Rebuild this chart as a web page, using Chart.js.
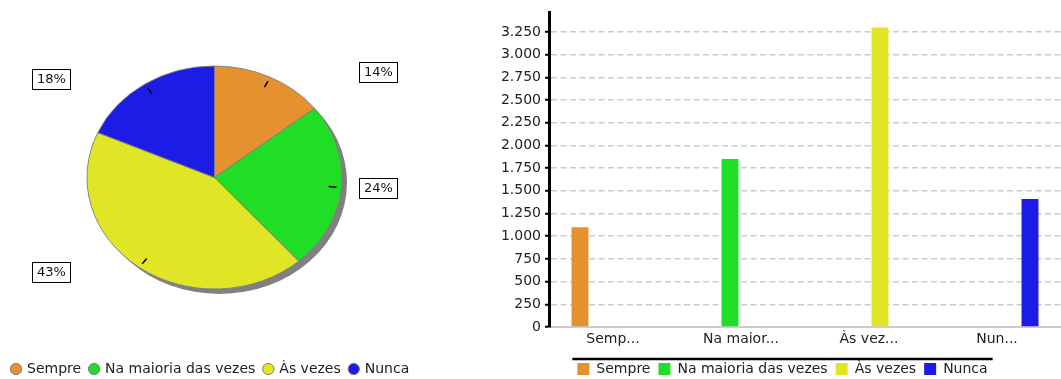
<!DOCTYPE html>
<html><head><meta charset="utf-8">
<script src="https://cdn.jsdelivr.net/npm/chart.js@4/dist/chart.umd.min.js"></script>
<style>
html,body{margin:0;padding:0;background:#fff;overflow:hidden;width:1061px;height:379px}
#pieWrap{position:absolute;left:0;top:0;width:470px;height:386px}
#barWrap{position:absolute;left:480px;top:0;width:581px;height:386px}
</style></head><body>
<div id="pieWrap"><canvas id="pie" width="470" height="386"></canvas></div>
<div id="barWrap"><canvas id="bar" width="581" height="386"></canvas></div>
<script>
// ---- data ----
const categories = ['Sempre', 'Na maioria das vezes', 'Às vezes', 'Nunca'];
const values = [1100, 1850, 3300, 1410];
const xTickLabels = ['Semp...', 'Na maior...', 'Às vez...', 'Nun...'];
const yTickValues = [0, 250, 500, 750, 1000, 1250, 1500, 1750, 2000, 2250, 2500, 2750, 3000, 3250];
const colors = ['#e5922e', '#20dd26', '#e0e626', '#1c1ce6'];
const yAxisMax = 3465;

const FONT = 'DejaVu Sans';
const ELLIPSE = 111.5 / 127.5;
const total = values.reduce((a, b) => a + b, 0);

const pieDecor = {
  id: 'pieDecor',
  beforeDatasetsDraw(chart) {
    const a0 = chart.getDatasetMeta(0).data[0];
    const {x, y, outerRadius: r} = a0;
    const ctx = chart.ctx;
    ctx.save();
    ctx.fillStyle = '#808080';
    ctx.beginPath();
    ctx.ellipse(x + 5, y + 5, r, r * ELLIPSE, 0, 0, Math.PI * 2);
    ctx.fill();
    ctx.restore();
    ctx.save();
    ctx.translate(x, y); ctx.scale(1, ELLIPSE); ctx.translate(-x, -y);
  },
  afterDatasetsDraw(chart) {
    const ctx = chart.ctx;
    ctx.restore();
    const meta = chart.getDatasetMeta(0);
    meta.data.forEach((a, i) => {
      const {x, y, outerRadius: r} = a;
      const mid = (a.startAngle + a.endAngle) / 2;
      const c = Math.cos(mid), s = Math.sin(mid);
      ctx.save();
      ctx.strokeStyle = '#000';
      ctx.lineWidth = 1.5;
      ctx.beginPath();
      ctx.moveTo(x + r * 0.9 * c, y + r * 0.9 * ELLIPSE * s);
      ctx.lineTo(x + r * 0.96 * c, y + r * 0.96 * ELLIPSE * s);
      ctx.stroke();
      const txt = Math.round(values[i] / total * 100) + '%';
      ctx.font = '13px "' + FONT + '"';
      const tw = ctx.measureText(txt).width;
      const bw = Math.round(tw + 9), bh = 20;
      const cx = c >= 0 ? x + 1.28 * r : x - 1.28 * r;
      const cy = y + r * 1.05 * ELLIPSE * s;
      const bx = Math.round(cx - bw / 2), by = Math.round(cy - bh / 2);
      ctx.fillStyle = '#fff';
      ctx.fillRect(bx, by, bw, bh);
      ctx.lineWidth = 1;
      ctx.strokeRect(bx + 0.5, by + 0.5, bw, bh);
      ctx.fillStyle = '#111';
      ctx.textAlign = 'center';
      ctx.textBaseline = 'middle';
      ctx.fillText(txt, bx + bw / 2 + 0.5, by + bh / 2 + 1);
      ctx.restore();
    });
  }
};

new Chart(document.getElementById('pie'), {
  type: 'pie',
  data: {
    labels: categories,
    datasets: [{
      data: values,
      backgroundColor: colors,
      borderColor: '#7f7f7f',
      borderWidth: 1,
      radius: 127.5
    }]
  },
  options: {
    responsive: false,
    animation: false,
    events: [],
    layout: {padding: {left: 3, right: 44, top: 2, bottom: 0}},
    plugins: {
      legend: {
        position: 'bottom',
        align: 'start',
        labels: {
          usePointStyle: true,
          pointStyle: 'circle',
          boxWidth: 8,
          boxHeight: 8,
          padding: 9,
          color: '#222',
          font: {family: FONT, size: 14}
        }
      },
      tooltip: {enabled: false}
    }
  },
  plugins: [pieDecor]
});

const LEGEND_SHIFT = 12;
const legendLine = {
  id: 'legendLine',
  afterLayout(chart) {
    const lg = chart.legend;
    lg.left += LEGEND_SHIFT;
    lg.right += LEGEND_SHIFT;
  },
  afterDraw(chart) {
    const lg = chart.legend;
    const hb = lg.legendHitBoxes;
    if (!hb || !hb.length) return;
    const first = hb[0], last = hb[hb.length - 1];
    const ctx = chart.ctx;
    ctx.save();
    ctx.strokeStyle = '#000';
    ctx.lineWidth = 2.5;
    ctx.beginPath();
    ctx.moveTo(first.left - 5, lg.top + 5);
    ctx.lineTo(last.left + last.width + 5, lg.top + 5);
    ctx.stroke();
    ctx.restore();
  }
};

new Chart(document.getElementById('bar'), {
  type: 'bar',
  data: {
    labels: xTickLabels,
    datasets: categories.map((name, i) => ({
      label: name,
      data: values.map((v, j) => (j === i ? v : null)),
      backgroundColor: colors[i],
      borderWidth: 0,
      categoryPercentage: 0.6875,
      barPercentage: 0.77
    }))
  },
  options: {
    responsive: false,
    animation: false,
    events: [],
    layout: {padding: {left: 0, right: 0, top: 12, bottom: 0}},
    scales: {
      x: {
        grid: {display: false, drawTicks: false},
        border: {display: true, color: '#cccccc', width: 2},
        ticks: {color: '#222', font: {family: FONT, size: 14}, padding: 4, maxRotation: 0, autoSkip: false},
        afterFit: s => { s.height = 27; }
      },
      y: {
        type: 'linear',
        min: 0,
        max: yAxisMax,
        grid: {color: '#cccccc', lineWidth: 1.5, tickColor: '#000', tickLength: 4, tickWidth: 2},
        border: {display: true, color: '#000', width: 3, dash: [6, 3.5]},
        ticks: {
          autoSkip: false,
          color: '#222',
          padding: 4,
          font: {family: FONT, size: 14},
          callback: v => String(v).replace(/\B(?=(\d{3})+(?!\d))/g, '.')
        },
        afterBuildTicks: s => { s.ticks = yTickValues.map(v => ({value: v})); },
        afterFit: s => { s.width = 69; }
      }
    },
    plugins: {
      legend: {
        position: 'bottom',
        labels: {
          boxWidth: 12,
          boxHeight: 12,
          padding: 8,
          color: '#222',
          font: {family: FONT, size: 14}
        }
      },
      tooltip: {enabled: false}
    }
  },
  plugins: [legendLine]
});
</script>
</body></html>
